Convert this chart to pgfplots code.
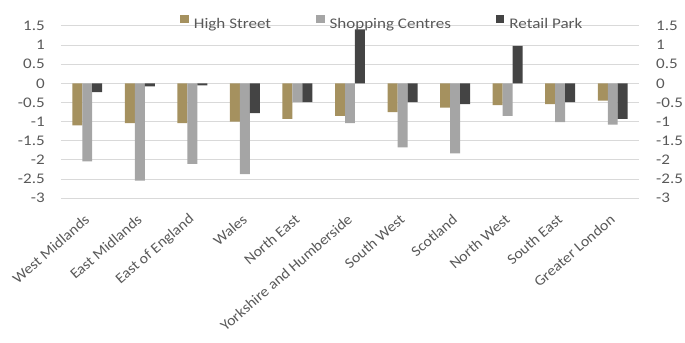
\documentclass[border=0pt]{standalone}
\usepackage{fontspec}
\setmainfont{Carlito}[FakeStretch=1.16]
\newfontfamily\xlfont{Carlito}[FakeStretch=1.08]
\usepackage{pgfplots}
\usepackage{pgfplotstable}
\pgfplotsset{compat=1.18}
\definecolor{hs}{HTML}{A5915F}
\definecolor{sc}{HTML}{A5A5A5}
\definecolor{rp}{HTML}{444444}
\definecolor{txt}{HTML}{595959}
\definecolor{grd}{HTML}{D9D9D9}
\pgfplotstableread{
idx hs sc rp
0 -1.10 -2.04 -0.23
1 -1.04 -2.54 -0.08
2 -1.04 -2.10 -0.05
3 -1.00 -2.37 -0.78
4 -0.93 -0.49 -0.49
5 -0.85 -1.04 1.41
6 -0.75 -1.67 -0.49
7 -0.63 -1.83 -0.54
8 -0.57 -0.85 0.98
9 -0.54 -1.01 -0.49
10 -0.45 -1.08 -0.93
}\data
\newcommand{\tfont}{\fontsize{14.7bp}{16bp}\selectfont}
\pgfplotsset{
  mylegend/.style={legend image code/.code={\fill[##1] (0bp,1bp) rectangle (8.5bp,8.7bp); \path (13.5bp,0bp);}},
}
\begin{document}
\begin{tikzpicture}
\begin{axis}[
  at={(0,0)}, anchor=south west,
  scale only axis, width=578.3bp, height=172.3bp,
  xmin=-0.5, xmax=10.5, ymin=-3, ymax=1.5,
  ytick={-3,-2.5,-2,-1.5,-1,-0.5,0,0.5,1,1.5},
  axis line style={draw=none}, major tick length=0pt,
  ymajorgrids, grid style={grd, line width=1bp},
  xtick={0,1,2,3,4,5,6,7,8,9,10},
  xticklabels={West Midlands, East Midlands, East of England, Wales, North East, Yorkshire and Humberside, South West, Scotland, North West, South East, Greater London},
  xticklabel style={font=\xlfont\fontsize{14.7bp}{16bp}\selectfont, rotate=41, anchor=east, inner sep=0pt, text=txt},
  xticklabel shift=19bp,
  yticklabel style={font=\tfont, text=txt, inner sep=0pt},
  yticklabel shift=16bp,
  /pgf/number format/assume math mode=true,
  ybar=0pt, bar width=10bp,
  legend columns=3,
  legend style={at={(0.2063,1.021)}, anchor=west, draw=none, fill=none, inner sep=0pt,
    font=\tfont, text=txt, nodes={inner sep=0pt},
    /tikz/every even column/.append style={column sep=45bp}},
]
\addplot[fill=hs, draw=none, mylegend] table[x=idx, y=hs] {\data};
\addplot[fill=sc, draw=none, mylegend] table[x=idx, y=sc] {\data};
\addplot[fill=rp, draw=none, mylegend] table[x=idx, y=rp] {\data};
\legend{High Street, Shopping Centres, Retail Park}
\end{axis}
\begin{axis}[
  at={(0,0)}, anchor=south west,
  scale only axis, width=578.3bp, height=172.3bp,
  xmin=-0.5, xmax=10.5, ymin=-3, ymax=1.5,
  ytick={-3,-2.5,-2,-1.5,-1,-0.5,0,0.5,1,1.5},
  xtick=\empty,
  axis line style={draw=none}, major tick length=0pt,
  yticklabel pos=right,
  yticklabel style={font=\tfont, text=txt, inner sep=0pt},
  yticklabel shift=17bp,
  /pgf/number format/assume math mode=true,
]
\addplot[draw=none, forget plot] coordinates {(0,0)};
\end{axis}
\pgfresetboundingbox
\path[use as bounding box] (-61bp,-144.7bp) rectangle (624.3bp,198.3bp);
\end{tikzpicture}
\end{document}
